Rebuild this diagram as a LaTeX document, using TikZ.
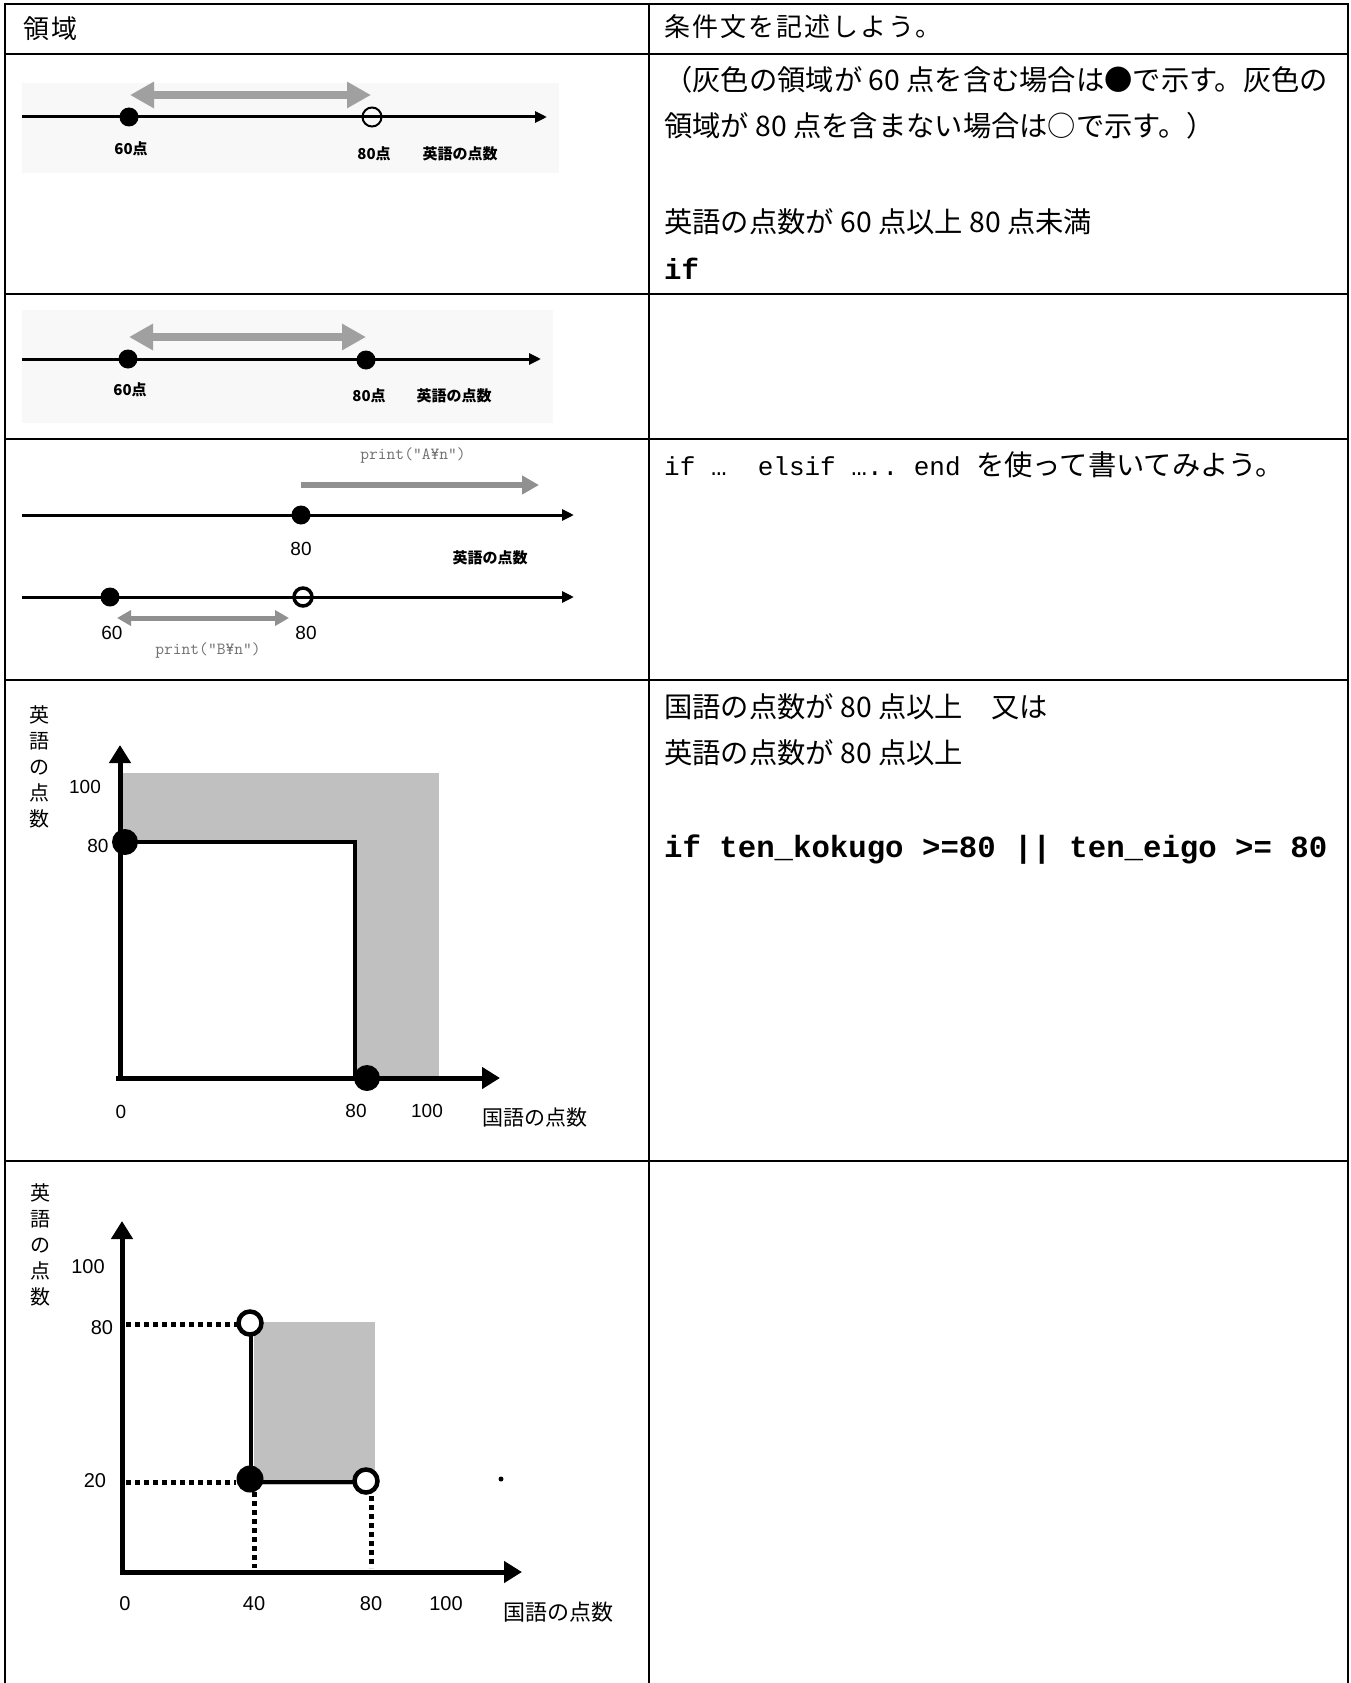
\documentclass[tikz,border=0pt]{standalone}
\usepackage{fontspec}
\setmainfont{Liberation Sans}
\newfontfamily\jp{Noto Sans CJK JP}
\newfontfamily\mono{Liberation Mono}
\usetikzlibrary{arrows.meta}
\definecolor{bgc}{HTML}{F8F8F8}
\definecolor{regc}{HTML}{C0C0C0}
\definecolor{arrc}{HTML}{A0A0A0}
\definecolor{arrd}{HTML}{909090}
\definecolor{prc}{HTML}{707070}
\newcommand\latw{\mono\fontsize{26}{26}\selectfont}
\begin{document}
\begin{tikzpicture}[x=1pt,y=-1pt,
  tbl/.style={line width=2.5pt},
  txt/.style={anchor=west,inner sep=0pt,font=\jp\fontsize{28.3}{28.3}\selectfont},
  hdr/.style={anchor=west,inner sep=0pt,font=\jp\fontsize{26}{26}\selectfont\addfontfeatures{LetterSpace=8}},
  code/.style={anchor=west,inner sep=0pt,font=\mono\bfseries\fontsize{30.7}{30.7}\selectfont},
  smlbl/.style={inner sep=0pt,font=\jp\bfseries\fontsize{15}{15}\selectfont},
  numlbl/.style={inner sep=0pt,font=\fontsize{19}{19}\selectfont},
  axlbl/.style={inner sep=0pt,font=\jp\fontsize{21}{21}\selectfont},
  vlbl/.style={inner sep=0pt,align=center,font=\jp\fontsize{20}{26}\selectfont},
  prlbl/.style={inner sep=0pt,text=prc,font=\ttfamily\fontsize{17}{17}\selectfont},
  numline/.style={line width=3pt,-{Triangle[length=12pt,width=11pt]}},
  axisline/.style={line width=5pt,-{Triangle[length=18pt,width=21pt]}},
  dblarr/.style={arrc,line width=8pt,{Triangle[length=24pt,width=25pt]}-{Triangle[length=24pt,width=25pt]}},
  sglarr/.style={arrd,line width=6pt,-{Triangle[length=17pt,width=18pt]}},
  dblarrs/.style={arrd,line width=5pt,{Triangle[length=14pt,width=15pt]}-{Triangle[length=14pt,width=15pt]}},
  fdot/.style={circle,fill=black,inner sep=0pt,minimum size=#1},
  odot/.style={circle,draw=black,inner sep=0pt,minimum size=#1},
  boxline/.style={line width=4pt},
  dots/.style={line width=5pt,dash pattern=on 5pt off 4pt}
]
\useasboundingbox (0,0) rectangle (1351,1683);
\fill[white] (0,0) rectangle (1351,1683);

% ---------- light picture backgrounds ----------
\fill[bgc] (22,83) rectangle (559,173);
\fill[bgc] (22,310) rectangle (553,423);

% ---------- table ----------
\draw[tbl] (5,1683) -- (5,4) -- (1348,4) -- (1348,1683);
\draw[tbl] (649,4) -- (649,1683);
\foreach \yy in {54,294,439,680,1161} \draw[tbl] (5,\yy) -- (1348,\yy);

% ---------- header ----------
\node[hdr] (h1) at (23,29) {領域};
\node[hdr] (h2) at (664,27) {条件文を記述しよう。};

% ---------- row 2 ----------
\coordinate (r2s) at (22,117); \coordinate (r2e) at (547,117);
\draw[numline] (r2s) -- (r2e);
\coordinate (r2a) at (130,95); \coordinate (r2b) at (371,95);
\draw[dblarr] (r2a) -- (r2b);
\node[fdot=19pt] (r2p60) at (129,117) {};
\node[odot=19pt,line width=2pt] (r2p80) at (372,117) {};
\node[smlbl] (r2l60) at (131,149) {60点};
\node[smlbl] (r2l80) at (374,154) {80点};
\node[smlbl] (r2lx) at (460,154) {英語の点数};

\node[txt] (t21) at (664,80) {（灰色の領域が 60 点を含む場合は●で示す。灰色の};
\node[txt] (t22) at (664,126) {領域が 80 点を含まない場合は○で示す。）};
\node[txt] (t23) at (664,222) {英語の点数が 60 点以上 80 点未満};
\node[code,font=\mono\bfseries\fontsize{29}{29}\selectfont] (t24) at (664,269) {if};

% ---------- row 3 ----------
\coordinate (r3s) at (22,359); \coordinate (r3e) at (541,359);
\draw[numline] (r3s) -- (r3e);
\coordinate (r3a) at (129,337); \coordinate (r3b) at (366,337);
\draw[dblarr] (r3a) -- (r3b);
\node[fdot=19pt] (r3p60) at (128,359) {};
\node[fdot=19pt] (r3p80) at (366,360) {};
\node[smlbl] (r3l60) at (130,390) {60点};
\node[smlbl] (r3l80) at (369,396) {80点};
\node[smlbl] (r3lx) at (454,396) {英語の点数};

% ---------- row 4 ----------
\node[prlbl] (prA) at (413,455) {print("A¥n")};
\coordinate (r4a) at (301,485); \coordinate (r4b) at (539,485);
\draw[sglarr] (r4a) -- (r4b);
\coordinate (r4s1) at (22,515); \coordinate (r4e1) at (574,515);
\draw[numline] (r4s1) -- (r4e1);
\node[fdot=19pt] (r4p80a) at (301,515) {};
\node[numlbl] (r4l80a) at (301,549) {80};
\node[smlbl] (r4lx) at (490,558) {英語の点数};
\coordinate (r4s2) at (22,597); \coordinate (r4e2) at (574,597);
\draw[numline] (r4s2) -- (r4e2);
\node[fdot=19pt] (r4p60) at (110,597) {};
\node[odot=18pt,line width=3.5pt] (r4p80b) at (303,597) {};
\coordinate (r4c) at (117,618); \coordinate (r4d) at (289,618);
\draw[dblarrs] (r4c) -- (r4d);
\node[numlbl] (r4l60) at (112,633) {60};
\node[numlbl] (r4l80b) at (306,633) {80};
\node[prlbl] (prB) at (208,650) {print("B¥n")};

\node[txt] (t41) at (664,465)
  {{\latw if~…~~elsif~…..~end~}を使って書いてみよう。};

% ---------- row 5 ----------
\fill[regc] (122,773) rectangle (439,1077);
\fill[white] (122,842) rectangle (355,1077);
\coordinate (r5o) at (120,1080); \coordinate (r5y) at (120,745);
\coordinate (r5xo) at (116,1078); \coordinate (r5x) at (500,1078);
\draw[axisline] (r5o) -- (r5y);
\draw[axisline] (r5xo) -- (r5x);
\coordinate (r5c1) at (120,842); \coordinate (r5c2) at (355,842); \coordinate (r5c3) at (355,1078);
\draw[boxline] (r5c1) -- (r5c2) -- (r5c3);
\node[fdot=26pt] (r5d1) at (125,842) {};
\node[fdot=26pt] (r5d2) at (367,1078) {};
\node[vlbl] (r5v) at (39,767) {英\\語\\の\\点\\数};
\node[numlbl] (r5l100y) at (85,787) {100};
\node[numlbl] (r5l80y) at (98,846) {80};
\node[numlbl] (r5l0) at (121,1112) {0};
\node[numlbl] (r5l80x) at (356,1111) {80};
\node[numlbl] (r5l100x) at (427,1111) {100};
\node[axlbl] (r5lx) at (535,1118) {国語の点数};

\node[txt] (t51) at (664,707) {国語の点数が 80 点以上　又は};
\node[txt] (t52) at (664,753) {英語の点数が 80 点以上};
\node[code] (t53) at (664,850) {if ten\_kokugo >=80 || ten\_eigo >= 80};

% ---------- row 6 ----------
\fill[regc] (254,1322) rectangle (375,1485);
\coordinate (r6o) at (122,1574); \coordinate (r6y) at (122,1221);
\coordinate (r6xo) at (120,1572); \coordinate (r6x) at (522,1572);
\draw[axisline] (r6o) -- (r6y);
\draw[axisline] (r6xo) -- (r6x);
\coordinate (r6c1) at (251,1324); \coordinate (r6c2) at (251,1482); \coordinate (r6c3) at (366,1482);
\draw[boxline] (r6c1) -- (r6c2) -- (r6c3);
\coordinate (r6h1) at (126,1324); \coordinate (r6h2) at (126,1482);
\coordinate (r6h1e) at (237,1324); \coordinate (r6h2e) at (236,1482);
\coordinate (r6b1) at (254,1568); \coordinate (r6b2) at (371,1568);
\coordinate (r6t1) at (254,1492); \coordinate (r6t2) at (371,1496);
\draw[dots] (r6h1) -- (r6h1e);
\draw[dots] (r6h2) -- (r6h2e);
\draw[dots] (r6t1) -- (r6b1);
\draw[dots] (r6t2) -- (r6b2);
\node[odot=23pt,line width=4.5pt,fill=white] (r6o80) at (250,1323) {};
\node[fdot=27pt] (r6f20) at (250,1479) {};
\node[odot=23pt,line width=4.5pt,fill=white] (r6o2) at (366,1481) {};
\node[fdot=5pt] (r6sd) at (501,1479) {};
\node[vlbl] (r6v) at (40,1245) {英\\語\\の\\点\\数};
\node[numlbl,font=\fontsize{20}{20}\selectfont] (r6l100y) at (88,1267) {100};
\node[numlbl,font=\fontsize{20}{20}\selectfont] (r6l80y) at (102,1328) {80};
\node[numlbl,font=\fontsize{20}{20}\selectfont] (r6l20y) at (95,1481) {20};
\node[numlbl,font=\fontsize{20}{20}\selectfont] (r6l0) at (125,1604) {0};
\node[numlbl,font=\fontsize{20}{20}\selectfont] (r6l40) at (254,1604) {40};
\node[numlbl,font=\fontsize{20}{20}\selectfont] (r6l80x) at (371,1604) {80};
\node[numlbl,font=\fontsize{20}{20}\selectfont] (r6l100x) at (446,1604) {100};
\node[axlbl,font=\jp\fontsize{22}{22}\selectfont] (r6lx) at (558,1612) {国語の点数};
\end{tikzpicture}
\end{document}
